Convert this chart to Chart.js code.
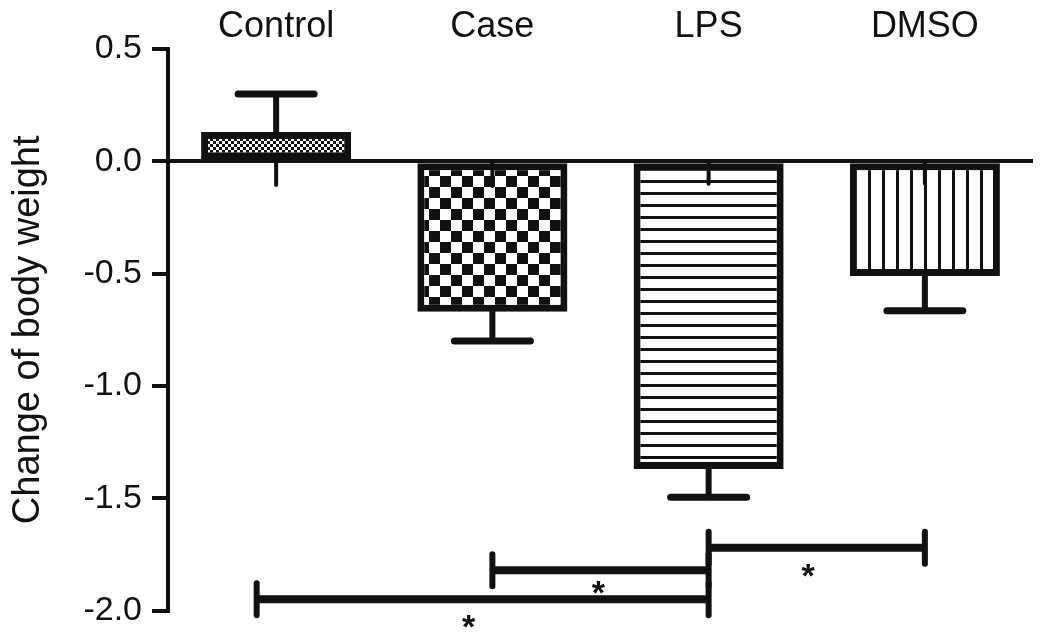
<!DOCTYPE html>
<html>
<head>
<meta charset="utf-8">
<script src="https://cdn.jsdelivr.net/npm/chart.js@4/dist/chart.umd.min.js"></script>
<style>
  html, body { margin: 0; padding: 0; background: #fff; }
  #wrap { width: 1047px; height: 641px; position: relative; }
</style>
</head>
<body>
<div id="wrap"><canvas id="chart"></canvas></div>
<script>
// Data
const groups = ['Control', 'Case', 'LPS', 'DMSO'];
const means = [0.13, -0.67, -1.37, -0.51];
const errEnds = [0.30, -0.80, -1.495, -0.665];
const stubEnds = [-0.105, -0.11, -0.1, -0.1];
const yTicks = [0.5, 0.0, -0.5, -1.0, -1.5, -2.0];

// significance brackets (category index from/to, y level, star position)
const sigFrom = [-0.09, 1, 2];
const sigTo = [2, 2, 3];
const sigY = [-1.95, -1.82, -1.72];
const sigStarX = [0.89, 1.49, 2.46];
const sigStarY = [-2.08, -1.93, -1.855];
const sigText = ['*', '*', '*'];

const FONT = "'Liberation Sans', Arial, sans-serif";
const INK = '#111';

// fill patterns
function makePattern(kind) {
    const c = document.createElement('canvas');
    const g = c.getContext('2d');
    if (kind === 'fine') {
        c.width = 6; c.height = 6;
        g.fillStyle = '#fff'; g.fillRect(0, 0, 6, 6);
        g.fillStyle = INK;
        g.fillRect(0, 0, 3, 3); g.fillRect(3, 3, 3, 3);
    } else if (kind === 'checker') {
        c.width = 22; c.height = 22;
        g.fillStyle = '#fff'; g.fillRect(0, 0, 22, 22);
        g.fillStyle = INK;
        g.fillRect(0, 0, 11, 11); g.fillRect(11, 11, 11, 11);
    } else if (kind === 'hlines') {
        c.width = 12; c.height = 12;
        g.fillStyle = '#fff'; g.fillRect(0, 0, 12, 12);
        g.fillStyle = INK; g.fillRect(0, 0, 12, 3);
    } else {
        c.width = 14; c.height = 14;
        g.fillStyle = '#fff'; g.fillRect(0, 0, 14, 14);
        g.fillStyle = INK; g.fillRect(0, 0, 3, 14);
    }
    return g.createPattern(c, 'repeat');
}
const fills = ['fine', 'checker', 'hlines', 'vlines'].map(makePattern);

// error bars, stubs and brackets
const annotations = {
    id: 'annotations',
    afterDatasetsDraw(chart) {
        const { ctx, scales: { x, y } } = chart;
        ctx.save();
        ctx.strokeStyle = INK;
        ctx.lineCap = 'round';
        means.forEach((m, i) => {
            const cx = x.getPixelForValue(i);
            // stub through the zero line
            ctx.lineWidth = 4;
            ctx.beginPath();
            ctx.moveTo(cx, y.getPixelForValue(0));
            ctx.lineTo(cx, y.getPixelForValue(stubEnds[i]));
            ctx.stroke();
            // whisker
            ctx.lineWidth = 6;
            const ye = y.getPixelForValue(errEnds[i]);
            ctx.beginPath();
            ctx.moveTo(cx, y.getPixelForValue(m));
            ctx.lineTo(cx, ye);
            ctx.stroke();
            ctx.lineWidth = 7;
            ctx.beginPath();
            ctx.moveTo(cx - 38, ye);
            ctx.lineTo(cx + 38, ye);
            ctx.stroke();
        });
        sigY.forEach((v, i) => {
            const x1 = x.getPixelForValue(sigFrom[i]);
            const x2 = x.getPixelForValue(sigTo[i]);
            const yy = y.getPixelForValue(v);
            ctx.lineWidth = 8;
            ctx.lineCap = 'butt';
            ctx.beginPath();
            ctx.moveTo(x1, yy);
            ctx.lineTo(x2, yy);
            ctx.stroke();
            ctx.lineWidth = 6;
            ctx.lineCap = 'round';
            [x1, x2].forEach(px => {
                ctx.beginPath();
                ctx.moveTo(px, yy - 16);
                ctx.lineTo(px, yy + 16);
                ctx.stroke();
            });
            ctx.fillStyle = INK;
            ctx.font = 'bold 34px ' + FONT;
            ctx.textAlign = 'center';
            ctx.textBaseline = 'middle';
            ctx.fillText(sigText[i], x.getPixelForValue(sigStarX[i]), y.getPixelForValue(sigStarY[i]));
        });
        ctx.restore();
    }
};

const chart = new Chart(document.getElementById('chart'), {
    type: 'bar',
    data: {
        labels: groups,
        datasets: [{
            data: means,
            backgroundColor: fills,
            borderColor: INK,
            borderWidth: 7,
            borderSkipped: false,
            barPercentage: 0.694,
            categoryPercentage: 1
        }]
    },
    options: {
        responsive: true,
        maintainAspectRatio: false,
        animation: false,
        layout: { padding: { left: 0, top: 0, right: 14, bottom: 30 } },
        plugins: {
            legend: { display: false },
            tooltip: { enabled: false }
        },
        scales: {
            x: {
                position: 'top',
                grid: { display: false, drawTicks: false },
                border: { display: false },
                ticks: { color: INK, font: { family: FONT, size: 36 }, padding: 0 },
                afterFit: s => { s.height = 49; }
            },
            y: {
                min: -2.0,
                max: 0.5,
                afterBuildTicks: s => { s.ticks = yTicks.map(v => ({ value: v })); },
                border: { display: true, color: INK, width: 4 },
                grid: {
                    color: c => (c.tick && c.tick.value === 0) ? INK : 'rgba(0,0,0,0)',
                    lineWidth: 4,
                    tickColor: INK,
                    tickWidth: 4,
                    tickLength: 16
                },
                ticks: {
                    color: INK,
                    font: { family: FONT, size: 34 },
                    padding: 10,
                    callback: v => Number(v).toFixed(1)
                },
                title: {
                    display: true,
                    text: 'Change of body weight',
                    color: INK,
                    font: { family: FONT, size: 38 },
                    padding: { top: 6, bottom: 0 }
                },
                afterFit: s => { s.width = 168; }
            }
        }
    },
    plugins: [annotations]
});
</script>
</body>
</html>
